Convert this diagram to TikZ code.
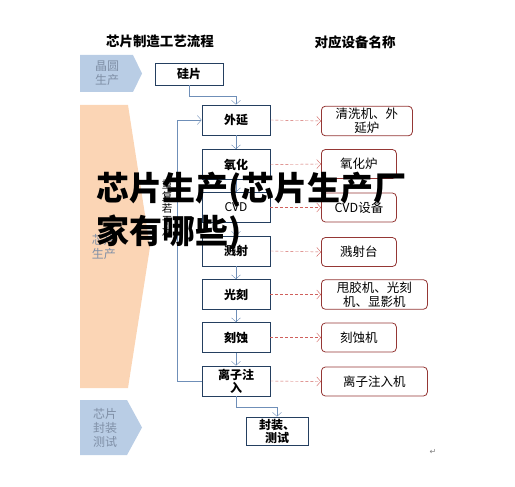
\documentclass[tikz,border=0pt]{standalone}
\usepackage{fontspec}
\setmainfont{Noto Sans CJK SC}
\newfontfamily\symfont{DejaVu Sans}
\usepackage{xcolor}
\usepackage{tikz}
\usetikzlibrary{positioning}
\usetikzlibrary{arrows.meta}
\definecolor{stepborder}{HTML}{243F60}
\definecolor{toolborder}{HTML}{953735}
\definecolor{flowblue}{HTML}{6F8FB8}
\definecolor{dashred}{HTML}{D0605C}
\definecolor{waferblue}{HTML}{B9CDE5}
\definecolor{chippeach}{HTML}{FBD5B5}
\definecolor{sidetext}{HTML}{7F8FA6}

\begin{document}
\begin{tikzpicture}[x=1pt, y=-1pt,
stepnode/.style={rectangle, draw=stepborder, fill=white, thick, minimum width=68pt, minimum height=30pt, inner sep=1pt, align=center, font=\fontsize{12}{13}\selectfont\bfseries},
toolnode/.style={rectangle, rounded corners=4pt, draw=toolborder, fill=white, thick, minimum height=29pt, inner sep=2pt, anchor=west, align=center, font=\fontsize{12.5}{14}\selectfont},
sidenode/.style={align=center, text=sidetext, font=\fontsize{12}{14}\selectfont},
headnode/.style={font=\fontsize{13.5}{15}\selectfont\bfseries},
flow/.style={draw=flowblue, -{Straight Barb[length=4pt, width=9pt]}},
toolarrow/.style={draw=dashred, densely dashed, -{Straight Barb[length=4pt, width=9pt]}},
]
\useasboundingbox (0,0) rectangle (515,487);

%Side shapes
\fill[waferblue]  (80,55) -- (133,55) -- (142,73.5) -- (133,92) -- (80,92) -- cycle;
\fill[chippeach]  (80,105) -- (128,105) -- (150,247) -- (128,388) -- (80,388) -- cycle;
\fill[waferblue]  (80,400) -- (127,400) -- (142,427.5) -- (127,455) -- (80,455) -- cycle;
\node[sidenode]   (wafer)     at (107,73.5)   {晶圆\\生产};
\node[sidenode]   (chipmake)  at (104,247)    {芯片\\生产};
\node[sidenode]   (chippack)  at (105,427.5)  {芯片\\封装\\测试};

%Headings
\node[headnode]   (flowhead)  at (160,41)     {芯片制造工艺流程};
\node[headnode]   (toolhead)  at (355,42)     {对应设备名称};

%Process steps
\node[stepnode, minimum height=22pt] (silicon) at (189,74)   {硅片};
\node[stepnode]   (epi)       at (236,120)    {外延};
\node[stepnode]   (oxide)     at (236,164.5)  {氧化};
\node[stepnode]   (cvd)       at (236,207.5)  {\normalfont CVD};
\node[stepnode]   (sputter)   at (236,251)    {溅射};
\node[stepnode]   (litho)     at (236,294.5)  {光刻};
\node[stepnode]   (etch)      at (236,337.5)  {刻蚀};
\node[stepnode]   (implant)   at (236,381)    {离子注\\入};
\node[stepnode, minimum width=62pt, minimum height=28pt] (package) at (277,431) {封装、\\测试};

%Equipment
\node[toolnode, minimum width=91pt]  (epitool)     at (321,121)    {清洗机、外\\延炉};
\node[toolnode, minimum width=75pt]  (oxidetool)   at (321,164)    {氧化炉};
\node[toolnode, minimum width=75pt]  (cvdtool)     at (321,207.5)  {CVD设备};
\node[toolnode, minimum width=75pt]  (sputtertool) at (321,252)    {溅射台};
\node[toolnode, minimum width=106pt] (lithotool)   at (321,294.5)  {甩胶机、光刻\\机、显影机};
\node[toolnode, minimum width=75pt]  (etchtool)    at (321,337.5)  {刻蚀机};
\node[toolnode, minimum width=106pt] (implanttool) at (321,381.5)  {离子注入机};

%Loop label
\node[align=center, font=\fontsize{10.5}{12}\selectfont] (repeat) at (167,209) {重\\复\\若\\干\\次};

%Lines
\draw[flow] (silicon.south) -- ++(0,11) -| (epi.north);
\draw[flow] (epi.south) -- (oxide.north);
\draw[flow] (oxide.south) -- (cvd.north);
\draw[flow] (cvd.south) -- (sputter.north);
\draw[flow] (sputter.south) -- (litho.north);
\draw[flow] (litho.south) -- (etch.north);
\draw[flow] (etch.south) -- (implant.north);
\draw[flow] (implant.west) -- ++(-24,0) |- (epi.west);
\draw[flow] (implant.south) -- ++(0,11) -| (package.north);

\draw[toolarrow] (epi.east) -- (epitool.west);
\draw[toolarrow] (oxide.east) -- (oxidetool.west);
\draw[toolarrow] (cvd.east) -- (cvdtool.west);
\draw[toolarrow] (sputter.east) -- (sputtertool.west);
\draw[toolarrow] (litho.east) -- (lithotool.west);
\draw[toolarrow] (etch.east) -- (etchtool.west);
\draw[toolarrow] (implant.east) -- (implanttool.west);

%Return mark
\node[text=gray, font=\symfont\fontsize{8}{9}\selectfont] (returnmark) at (433,452) {↵};

%Overlay title
\node[anchor=west, align=left, inner sep=0pt, font=\fontsize{33}{43}\selectfont\bfseries] (overlay) at (96,211.5) {芯片生产(芯片生产厂\\家有哪些)};
\end{tikzpicture}
\end{document}
